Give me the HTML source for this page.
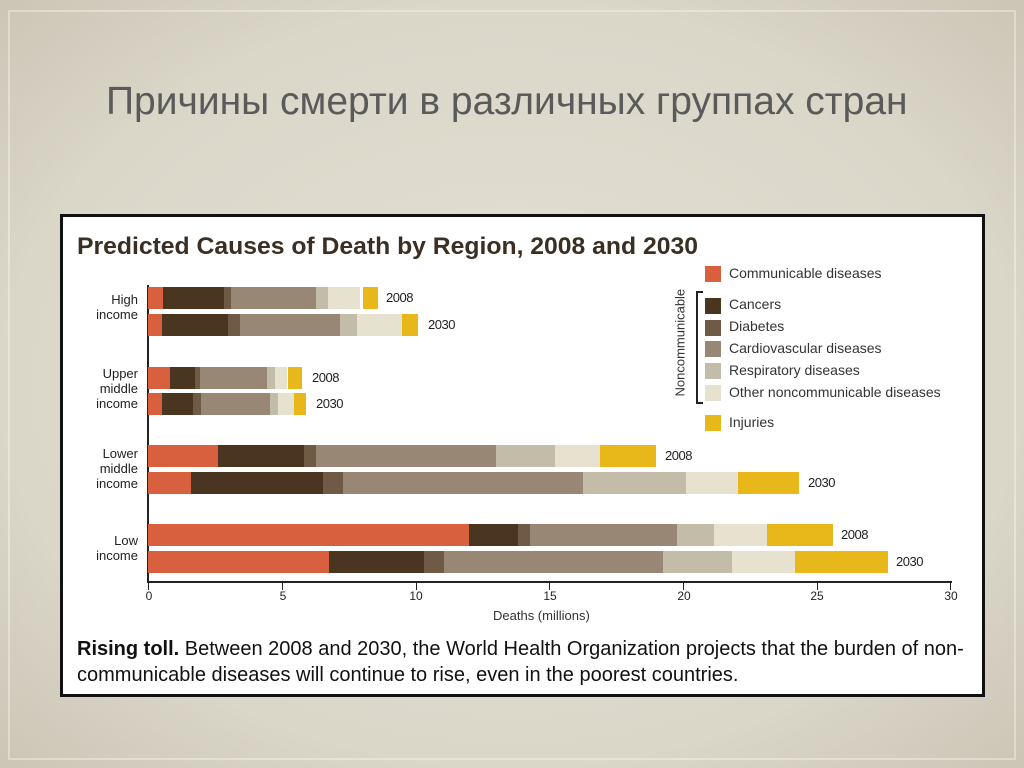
<!DOCTYPE html>
<html><head><meta charset="utf-8"><style>
*{margin:0;padding:0;box-sizing:border-box}
body{width:1024px;height:768px;overflow:hidden;position:relative;font-family:"Liberation Sans",sans-serif;
background:radial-gradient(ellipse at center,#e4e1d6 0%,#dad6c8 70%,#cbc5b5 100%)}
.edge{position:absolute;left:8px;top:10px;width:1008px;height:750px;border:2px solid rgba(255,255,255,0.35)}
.h1{position:absolute;left:106px;top:80px;font-size:39px;color:#5a5a5a;font-family:"Liberation Sans","Noto Sans CJK SC",sans-serif;white-space:nowrap}
.frame{position:absolute;left:60px;top:214px;width:925px;height:483px;border:3px solid #111;background:#fff}
.a{position:absolute}
.bar{position:absolute;display:flex;height:22px}
.bar div{height:100%}
.c1{background:#d9603f}.c2{background:#4a3520}.c3{background:#6e5a45}.c4{background:#978774}.c5{background:#c3bca9}.c6{background:#e6e2cf}.c7{background:#e8b71a}
.yl{position:absolute;font-size:13px;color:#222;text-align:right;line-height:15px;width:80px}
.yr{position:absolute;font-size:13px;color:#222;letter-spacing:-0.5px}
.tk{position:absolute;top:582px;width:1px;height:8px;background:#222}
.tl{position:absolute;top:589px;font-size:12px;color:#222;width:30px;margin-left:-15px;text-align:center}
.sq{position:absolute;left:705px;width:16px;height:16px}
.lt{position:absolute;left:729px;font-size:14px;color:#333;white-space:nowrap}
</style></head><body>
<div class="edge"></div>
<div class="h1">Причины смерти в различных группах стран</div>
<div class="frame"></div>
<div class="a" style="left:77px;top:233px;font-size:24px;font-weight:bold;color:#3b2e22;white-space:nowrap;transform:scaleX(1.03);transform-origin:left">Predicted Causes of Death by Region, 2008 and 2030</div>

<div class="a" style="left:147px;top:285px;width:2px;height:298px;background:#222"></div>
<div class="a" style="left:148px;top:581px;width:804px;height:2px;background:#222"></div>

<div class="yl" style="left:58px;top:292px">High<br>income</div>
<div class="yl" style="left:58px;top:366px">Upper<br>middle<br>income</div>
<div class="yl" style="left:58px;top:446px">Lower<br>middle<br>income</div>
<div class="yl" style="left:58px;top:533px">Low<br>income</div>

<div class="bar" style="left:148px;top:287px"><div class="c1" style="width:15px"></div><div class="c2" style="width:61px"></div><div class="c3" style="width:7px"></div><div class="c4" style="width:85px"></div><div class="c5" style="width:12px"></div><div class="c6" style="width:32px"></div><div style="width:3px;background:#fff"></div><div class="c7" style="width:15px"></div></div>
<div class="yr" style="left:386px;top:290px">2008</div>
<div class="bar" style="left:148px;top:314px"><div class="c1" style="width:14px"></div><div class="c2" style="width:66px"></div><div class="c3" style="width:12px"></div><div class="c4" style="width:100px"></div><div class="c5" style="width:17px"></div><div class="c6" style="width:45px"></div><div class="c7" style="width:16px"></div></div>
<div class="yr" style="left:428px;top:317px">2030</div>

<div class="bar" style="left:148px;top:367px"><div class="c1" style="width:22px"></div><div class="c2" style="width:25px"></div><div class="c3" style="width:5px"></div><div class="c4" style="width:67px"></div><div class="c5" style="width:8px"></div><div class="c6" style="width:12px"></div><div style="width:1px;background:#fff"></div><div class="c7" style="width:14px"></div></div>
<div class="yr" style="left:312px;top:370px">2008</div>
<div class="bar" style="left:148px;top:393px"><div class="c1" style="width:14px"></div><div class="c2" style="width:31px"></div><div class="c3" style="width:8px"></div><div class="c4" style="width:69px"></div><div class="c5" style="width:8px"></div><div class="c6" style="width:16px"></div><div class="c7" style="width:12px"></div></div>
<div class="yr" style="left:316px;top:396px">2030</div>

<div class="bar" style="left:148px;top:445px"><div class="c1" style="width:70px"></div><div class="c2" style="width:86px"></div><div class="c3" style="width:12px"></div><div class="c4" style="width:180px"></div><div class="c5" style="width:59px"></div><div class="c6" style="width:45px"></div><div class="c7" style="width:56px"></div></div>
<div class="yr" style="left:665px;top:448px">2008</div>
<div class="bar" style="left:148px;top:472px"><div class="c1" style="width:43px"></div><div class="c2" style="width:132px"></div><div class="c3" style="width:20px"></div><div class="c4" style="width:240px"></div><div class="c5" style="width:103px"></div><div class="c6" style="width:52px"></div><div class="c7" style="width:61px"></div></div>
<div class="yr" style="left:808px;top:475px">2030</div>

<div class="bar" style="left:148px;top:524px"><div class="c1" style="width:321px"></div><div class="c2" style="width:49px"></div><div class="c3" style="width:12px"></div><div class="c4" style="width:147px"></div><div class="c5" style="width:37px"></div><div class="c6" style="width:53px"></div><div class="c7" style="width:66px"></div></div>
<div class="yr" style="left:841px;top:527px">2008</div>
<div class="bar" style="left:148px;top:551px"><div class="c1" style="width:181px"></div><div class="c2" style="width:95px"></div><div class="c3" style="width:20px"></div><div class="c4" style="width:219px"></div><div class="c5" style="width:69px"></div><div class="c6" style="width:63px"></div><div class="c7" style="width:93px"></div></div>
<div class="yr" style="left:896px;top:554px">2030</div>

<div class="tk" style="left:148px"></div><div class="tk" style="left:282px"></div><div class="tk" style="left:416px"></div><div class="tk" style="left:549px"></div><div class="tk" style="left:683px"></div><div class="tk" style="left:817px"></div><div class="tk" style="left:950px"></div>
<div class="tl" style="left:149px">0</div><div class="tl" style="left:283px">5</div><div class="tl" style="left:416px">10</div><div class="tl" style="left:550px">15</div><div class="tl" style="left:684px">20</div><div class="tl" style="left:817px">25</div><div class="tl" style="left:951px">30</div>
<div class="a" style="left:493px;top:608px;font-size:13px;color:#333">Deaths (millions)</div>

<div class="sq c1" style="top:266px"></div><div class="lt" style="top:265px">Communicable diseases</div>
<div class="sq c2" style="top:298px"></div><div class="lt" style="top:296px">Cancers</div>
<div class="sq c3" style="top:320px"></div><div class="lt" style="top:318px">Diabetes</div>
<div class="sq c4" style="top:341px"></div><div class="lt" style="top:340px">Cardiovascular diseases</div>
<div class="sq c5" style="top:363px"></div><div class="lt" style="top:362px">Respiratory diseases</div>
<div class="sq c6" style="top:385px"></div><div class="lt" style="top:384px">Other noncommunicable diseases</div>
<div class="sq c7" style="top:415px"></div><div class="lt" style="top:414px">Injuries</div>
<div class="a" style="left:696px;top:291px;width:7px;height:113px;border:2px solid #222;border-right:none"></div>
<div class="a" style="left:630px;top:339px;width:100px;text-align:center;font-size:13px;color:#333;transform:rotate(-90deg);transform-origin:center">Noncommunicable</div>

<div class="a" style="left:77px;top:636px;font-size:20px;color:#111;white-space:nowrap;transform:scaleX(1.0);transform-origin:left;line-height:26px"><b>Rising toll.</b> Between 2008 and 2030, the World Health Organization projects that the burden of non-<br>communicable diseases will continue to rise, even in the poorest countries.</div>
</body></html>
